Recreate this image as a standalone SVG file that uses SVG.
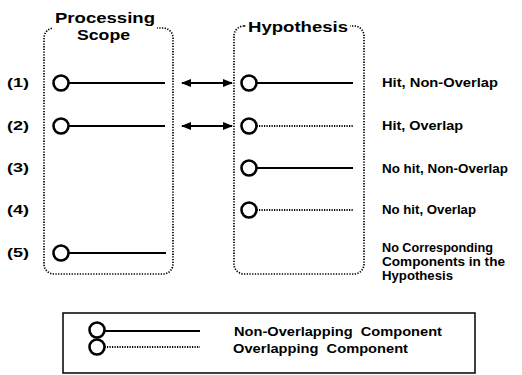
<svg xmlns="http://www.w3.org/2000/svg" width="522" height="375" viewBox="0 0 522 375">
  <style>
    text { font-family: "Liberation Sans", Arial, sans-serif; font-weight: bold; fill: #000; }
    .head { font-size: 15px; }
    .lbl { font-size: 13px; }
    .box { fill: none; stroke: #000; stroke-width: 1.7; stroke-dasharray: 1.3 1.4; }
    .ring { fill: #fff; stroke: #000; stroke-width: 2.6; }
    .solid { stroke: #000; stroke-width: 2.2; fill: none; }
    .dotted { stroke: #000; stroke-width: 2; stroke-dasharray: 1.2 1.3; fill: none; }
    .arrow { stroke: #000; stroke-width: 2; fill: none; }
  </style>
  <defs>
    <marker id="ah" viewBox="0 0 10 8" refX="9" refY="4" markerWidth="10" markerHeight="8" markerUnits="userSpaceOnUse" orient="auto-start-reverse">
      <path d="M0,0 L10,4 L0,8 Z" fill="#000"/>
    </marker>
  </defs>
  <rect width="522" height="375" fill="#fff"/>

  <!-- Processing scope container -->
  <g id="scope">
    <rect class="box" x="44" y="28" width="129" height="246" rx="10"/>
    <rect x="53" y="10" width="104" height="21" fill="#fff"/>
    <text class="head" x="55" y="23" textLength="100" lengthAdjust="spacingAndGlyphs">Processing</text>
    <text class="head" x="77" y="40" textLength="53" lengthAdjust="spacingAndGlyphs">Scope</text>
  </g>

  <!-- Hypothesis container -->
  <g id="hypothesis">
    <rect class="box" x="234" y="26" width="130" height="248" rx="10"/>
    <rect x="246" y="16" width="104" height="19" fill="#fff"/>
    <text class="head" x="248" y="32" textLength="100" lengthAdjust="spacingAndGlyphs">Hypothesis</text>
  </g>

  <!-- case (1): hit, non-overlap -->
  <g id="case1">
    <text class="lbl" x="7" y="87" textLength="22" lengthAdjust="spacingAndGlyphs">(1)</text>
    <line class="solid" x1="61" y1="83" x2="165" y2="83"/>
    <circle class="ring" cx="61" cy="83" r="7.5"/>
    <line class="solid" x1="249" y1="83" x2="353" y2="83"/>
    <circle class="ring" cx="249" cy="83" r="7.5"/>
    <text class="lbl" x="382" y="87" textLength="116" lengthAdjust="spacingAndGlyphs">Hit, Non-Overlap</text>
  </g>

  <!-- case (2): hit, overlap -->
  <g id="case2">
    <text class="lbl" x="7" y="130" textLength="22" lengthAdjust="spacingAndGlyphs">(2)</text>
    <line class="solid" x1="61" y1="126" x2="165" y2="126"/>
    <circle class="ring" cx="61" cy="126" r="7.5"/>
    <line class="dotted" x1="249" y1="126" x2="353" y2="126"/>
    <circle class="ring" cx="249" cy="126" r="7.5"/>
    <text class="lbl" x="382" y="130" textLength="81" lengthAdjust="spacingAndGlyphs">Hit, Overlap</text>
  </g>

  <!-- case (3): no hit, non-overlap -->
  <g id="case3">
    <text class="lbl" x="7" y="172" textLength="22" lengthAdjust="spacingAndGlyphs">(3)</text>
    <line class="solid" x1="249" y1="168" x2="353" y2="168"/>
    <circle class="ring" cx="249" cy="168" r="7.5"/>
    <text class="lbl" x="382" y="172.5" textLength="126" lengthAdjust="spacingAndGlyphs">No hit, Non-Overlap</text>
  </g>

  <!-- case (4): no hit, overlap -->
  <g id="case4">
    <text class="lbl" x="7" y="214" textLength="22" lengthAdjust="spacingAndGlyphs">(4)</text>
    <line class="dotted" x1="249" y1="210" x2="353" y2="210"/>
    <circle class="ring" cx="249" cy="210" r="7.5"/>
    <text class="lbl" x="382" y="214" textLength="94" lengthAdjust="spacingAndGlyphs">No hit, Overlap</text>
  </g>

  <!-- case (5): nothing corresponding -->
  <g id="case5">
    <text class="lbl" x="7" y="257" textLength="22" lengthAdjust="spacingAndGlyphs">(5)</text>
    <line class="solid" x1="61" y1="253" x2="166" y2="253"/>
    <circle class="ring" cx="61" cy="253" r="7.5"/>
    <text class="lbl" x="382" y="252" textLength="111" lengthAdjust="spacingAndGlyphs">No Corresponding</text>
    <text class="lbl" x="382" y="266" textLength="123" lengthAdjust="spacingAndGlyphs">Components in the</text>
    <text class="lbl" x="382" y="280" textLength="71" lengthAdjust="spacingAndGlyphs">Hypothesis</text>
  </g>

  <!-- correspondence arrows -->
  <g id="connectors">
    <line class="arrow" x1="182" y1="83" x2="232" y2="83" marker-start="url(#ah)" marker-end="url(#ah)"/>
    <line class="arrow" x1="182" y1="126" x2="232" y2="126" marker-start="url(#ah)" marker-end="url(#ah)"/>
  </g>

  <!-- legend -->
  <g id="legend">
    <rect x="63" y="313" width="412" height="60" fill="none" stroke="#000" stroke-width="1.5"/>
    <line class="solid" x1="97" y1="331" x2="200" y2="331"/>
    <circle class="ring" cx="97" cy="330" r="7.5"/>
    <line class="dotted" x1="97" y1="347" x2="200" y2="347"/>
    <circle class="ring" cx="97" cy="347" r="7.5"/>
    <text class="lbl" x="234" y="336" textLength="208" lengthAdjust="spacingAndGlyphs" xml:space="preserve">Non-Overlapping  Component</text>
    <text class="lbl" x="233" y="353" textLength="175" lengthAdjust="spacingAndGlyphs" xml:space="preserve">Overlapping  Component</text>
  </g>
</svg>
